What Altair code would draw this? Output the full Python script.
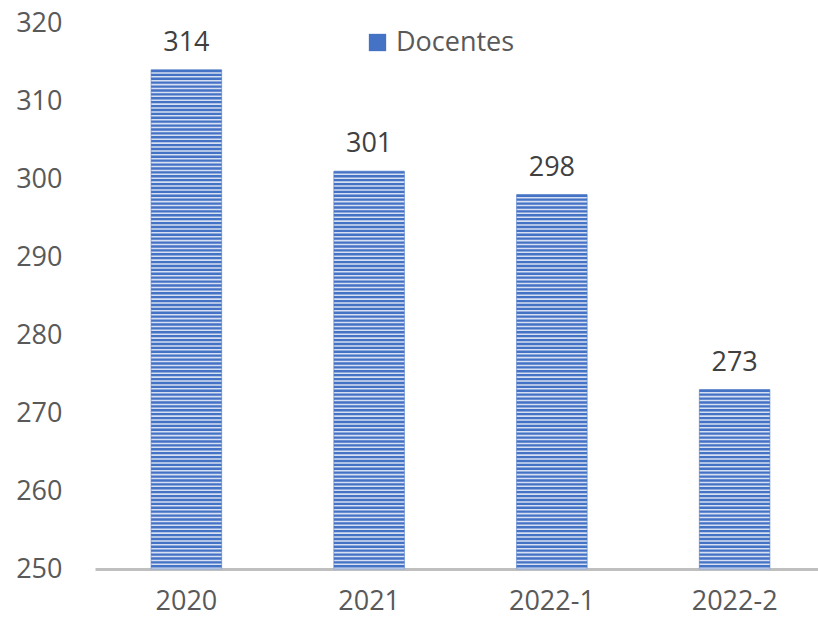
import altair as alt
import pandas as pd

categories = ["2020", "2021", "2022-1", "2022-2"]
values = [314, 301, 298, 273]
series_name = "Docentes"
y_ticks = [250, 260, 270, 280, 290, 300, 310, 320]

BASE = 250
FONT = "Open Sans"
FS = 27

df = pd.DataFrame({"cat": categories, "val": values, "base": [BASE] * len(values)})

# horizontal stripe pattern: thin blue bands stacked inside each bar
stripe_rows = []
for c, v in zip(categories, values):
    k = 0
    while v - k * 0.5 - 0.3 >= BASE:
        stripe_rows.append({"cat": c, "y0": v - k * 0.5, "y1": v - k * 0.5 - 0.3, "series": series_name})
        k += 1
stripes = pd.DataFrame(stripe_rows)

xscale = alt.Scale(paddingInner=0.614, paddingOuter=0.307, range=[0, 731])
xenc = alt.X("cat:N", sort=categories, title=None, scale=xscale,
             axis=alt.Axis(labelAngle=0, domainColor="#bfbfbf", domainWidth=3, ticks=False,
                           labelFont=FONT, labelFontSize=FS, labelColor="#595959", labelPadding=19))
yscale = alt.Scale(domain=[250, 320], nice=False, zero=False)

bg = alt.Chart(df).mark_bar(color="#d6e0f2", stroke="#8faadc", strokeWidth=1).encode(
    x=xenc,
    y=alt.Y("val:Q", scale=yscale, title=None,
            axis=alt.Axis(values=y_ticks, grid=False, domain=False, ticks=False,
                          labelFont=FONT, labelFontSize=FS, labelColor="#595959", labelPadding=33)),
    y2="base:Q",
)

stripe_layer = alt.Chart(stripes).mark_bar().encode(
    x=alt.X("cat:N", sort=categories, scale=xscale),
    y=alt.Y("y0:Q", scale=yscale),
    y2="y1:Q",
    color=alt.Color("series:N", scale=alt.Scale(domain=[series_name], range=["#4472c4"]),
                    legend=alt.Legend(title=None, orient="none", legendX=269, legendY=6,
                                      symbolType="square", symbolSize=300, symbolStrokeWidth=0,
                                      labelFont=FONT, labelFontSize=FS, labelColor="#595959",
                                      labelOffset=5, padding=0)),
)

labels = alt.Chart(df).mark_text(font=FONT, fontSize=FS, color="#404040", baseline="middle", dy=-27).encode(
    x=alt.X("cat:N", sort=categories, scale=xscale),
    y=alt.Y("val:Q", scale=yscale),
    text=alt.Text("val:Q"),
)

chart = alt.layer(bg, stripe_layer, labels).properties(
    width=723, height=546,
    autosize=alt.AutoSizeParams(type="none"),
    padding={"left": 95, "top": 23, "right": 0, "bottom": 55},
).configure(background="white", view=alt.ViewConfig(stroke=None))

chart.save("out.html", embed_options={"renderer": "svg", "actions": False})
